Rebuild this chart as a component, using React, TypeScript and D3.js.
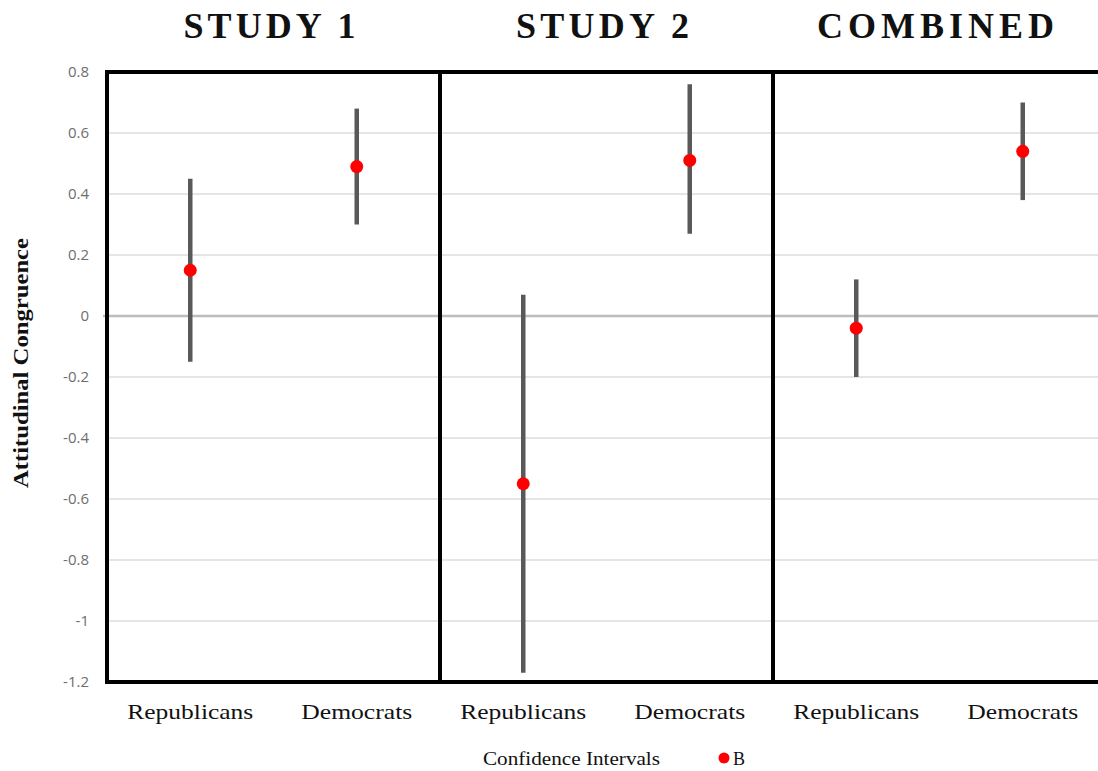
import React from 'react';
import * as d3 from 'd3';

// panels, groups and values
const studies = ['STUDY 1', 'STUDY 2', 'COMBINED'];
const groups = ['Republicans', 'Democrats'];
const estimates = [
  [0.15, 0.49],
  [-0.55, 0.51],
  [-0.04, 0.54],
];
const lowerCI = [
  [-0.15, 0.3],
  [-1.17, 0.27],
  [-0.2, 0.38],
];
const upperCI = [
  [0.45, 0.68],
  [0.07, 0.76],
  [0.12, 0.7],
];
const yTicks = [0.8, 0.6, 0.4, 0.2, 0, -0.2, -0.4, -0.6, -0.8, -1, -1.2];

const W = 1098;
const H = 771;
const serif = '"Liberation Serif", "Times New Roman", serif';

// measured text widths (the source image is a bit stretched horizontally)
const titleWidths: Record<string, number> = { 'STUDY 1': 172, 'STUDY 2': 173, COMBINED: 237 };
const groupWidths: Record<string, number> = { Republicans: 126, Democrats: 111 };

const App: React.FC = () => {
  const y = d3.scaleLinear().domain([-1.2, 0.8]).range([682, 72]);
  const panel = d3.scaleBand<string>().domain(studies).range([107, 1106]).padding(0);
  const inner = d3.scaleBand<string>().domain(groups).range([0, panel.bandwidth()]).padding(0);

  const x0 = panel.range()[0];
  const x1 = panel.range()[1];

  return (
    <svg
      width={W}
      height={H}
      style={{ position: 'absolute', left: 0, top: 0, background: '#fff', overflow: 'hidden' }}
    >
      {/* gridlines */}
      {yTicks.map((t) => (
        <line
          key={'g' + t}
          x1={t === 0 ? x0 - 4 : x0}
          x2={x1}
          y1={y(t)}
          y2={y(t)}
          stroke={t === 0 ? '#bdbdbd' : '#dcdcdc'}
          strokeWidth={t === 0 ? 2.5 : 1.5}
        />
      ))}

      {/* y tick labels */}
      {yTicks.map((t) => (
        <text
          key={'t' + t}
          x={89}
          y={y(t)}
          dy="0.35em"
          textAnchor="end"
          fontFamily='"Open Sans", sans-serif'
          fontSize={15}
          fill="#6e6e6e"
        >
          {String(+t.toFixed(1))}
        </text>
      ))}

      {/* y axis title */}
      <text
        transform={`translate(28,${363}) rotate(-90)`}
        textAnchor="middle"
        fontFamily={serif}
        fontWeight="bold"
        fontSize={22}
        textLength={250}
        lengthAdjust="spacingAndGlyphs"
        fill="#111"
      >
        Attitudinal Congruence
      </text>

      {/* estimates and confidence intervals */}
      {studies.map((s, i) => (
        <g key={s} transform={`translate(${panel(s)},0)`}>
          {groups.map((g, j) => {
            const cx = (inner(g) as number) + inner.bandwidth() / 2;
            return (
              <g key={g}>
                <line
                  x1={cx}
                  x2={cx}
                  y1={y(lowerCI[i][j])}
                  y2={y(upperCI[i][j])}
                  stroke="#595959"
                  strokeWidth={4.5}
                />
                <circle cx={cx} cy={y(estimates[i][j])} r={6.5} fill="#ff0000" />
                <text
                  x={cx}
                  y={719}
                  textAnchor="middle"
                  fontFamily={serif}
                  fontSize={21}
                  textLength={groupWidths[g]}
                  lengthAdjust="spacingAndGlyphs"
                  fill="#111"
                >
                  {g}
                </text>
              </g>
            );
          })}
          <text
            x={panel.bandwidth() / 2 - 4}
            y={38}
            textAnchor="middle"
            fontFamily={serif}
            fontWeight="bold"
            fontSize={36}
            textLength={titleWidths[s]}
            lengthAdjust="spacing"
            fill="#111"
          >
            {s}
          </text>
        </g>
      ))}

      {/* panel frames */}
      {studies.map((s) => (
        <rect
          key={'f' + s}
          x={panel(s)}
          y={y(0.8)}
          width={panel.bandwidth()}
          height={y(-1.2) - y(0.8)}
          fill="none"
          stroke="#000"
          strokeWidth={4}
        />
      ))}

      {/* legend */}
      <text
        x={483}
        y={765}
        fontFamily={serif}
        fontSize={18}
        textLength={177}
        lengthAdjust="spacingAndGlyphs"
        fill="#111"
      >
        Confidence Intervals
      </text>
      <circle cx={724} cy={758} r={5.5} fill="#ff0000" />
      <text x={733} y={765} fontFamily={serif} fontSize={18} fill="#111">
        B
      </text>
    </svg>
  );
};

export default App;
